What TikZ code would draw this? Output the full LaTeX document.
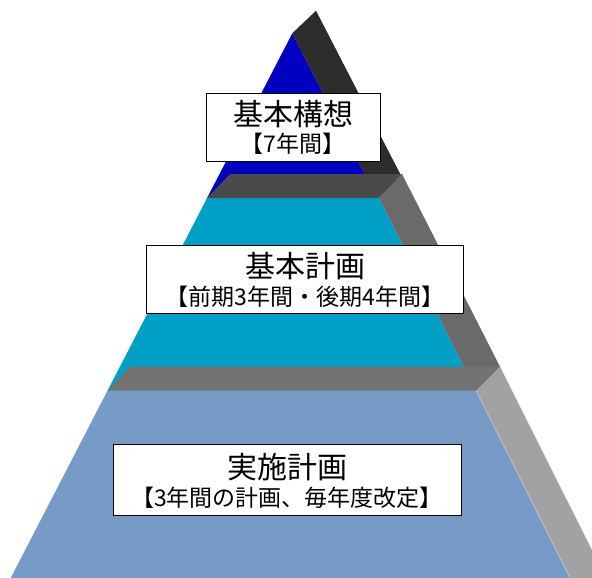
\documentclass[tikz,border=0pt]{standalone}
\usepackage{fontspec}
\newfontfamily\jpfont{Noto Sans CJK JP}
\definecolor{tonefront}{HTML}{0000C0}
\definecolor{toneside}{HTML}{2C2C2C}
\definecolor{ttwotop}{HTML}{4A4A4A}
\definecolor{ttwofront}{HTML}{009FC6}
\definecolor{ttwoside}{HTML}{6A6A6A}
\definecolor{tthreetop}{HTML}{727272}
\definecolor{tthreefront}{HTML}{769BC6}
\definecolor{tthreeside}{HTML}{A2A2A2}
\tikzset{
  labelbox/.style={draw=black, fill=white, line width=1pt, inner sep=0pt},
  titletext/.style={font=\jpfont\fontsize{30}{30}\selectfont, anchor=base, inner sep=0pt},
  subtext/.style={font=\jpfont\fontsize{23}{23}\selectfont, anchor=base, inner sep=0pt},
}
\begin{document}
\begin{tikzpicture}[x=1pt,y=-1pt]
\clip (0,0) rectangle (592,578);
% tier 1
\fill[tonefront] (292.3,33.3) -- (207.1,198) -- (377,198) -- cycle;
\fill[toneside] (292.3,33.3) -- (316,10.7) -- (400.5,174.5) -- (377,198) -- cycle;
% tier 2
\fill[ttwofront] (207.1,198) -- (379,198) -- (476,390.7) -- (107.5,390.7) -- cycle;
\fill[ttwoside] (379,198) -- (402,174) -- (500,366.7) -- (476,390.7) -- cycle;
\fill[ttwotop] (207.1,198) -- (379,198) -- (402,174) -- (230,174) -- cycle;
% tier 3
\fill[tthreefront] (107.5,390.7) -- (476,390.7) -- (570,578) -- (10.7,578) -- cycle;
\fill[tthreeside] (476,390.7) -- (500,366.7) -- (606,578) -- (570,578) -- cycle;
\draw[white!45!tthreefront, line width=0.7pt] (476,390.7) -- (570,578);
\fill[tthreetop] (107.5,390.7) -- (476,390.7) -- (500,366.7) -- (130,366.7) -- cycle;
% labels
\node[labelbox, minimum width=174pt, minimum height=67pt] (boxa) at (293,127.5) {};
\node[titletext] (titlea) at (293,125) {基本構想};
\node[subtext] (suba) at (293,152.5) {【7年間】};
\node[labelbox, minimum width=317pt, minimum height=68pt] (boxb) at (305,279) {};
\node[titletext] (titleb) at (305,277) {基本計画};
\node[subtext] (subb) at (305,305) {【前期3年間・後期4年間】};
\node[labelbox, minimum width=348pt, minimum height=71pt] (boxc) at (287,479.5) {};
\node[titletext] (titlec) at (287,478) {実施計画};
\node[subtext] (subc) at (287,506) {【3年間の計画、毎年度改定】};
\end{tikzpicture}
\end{document}
